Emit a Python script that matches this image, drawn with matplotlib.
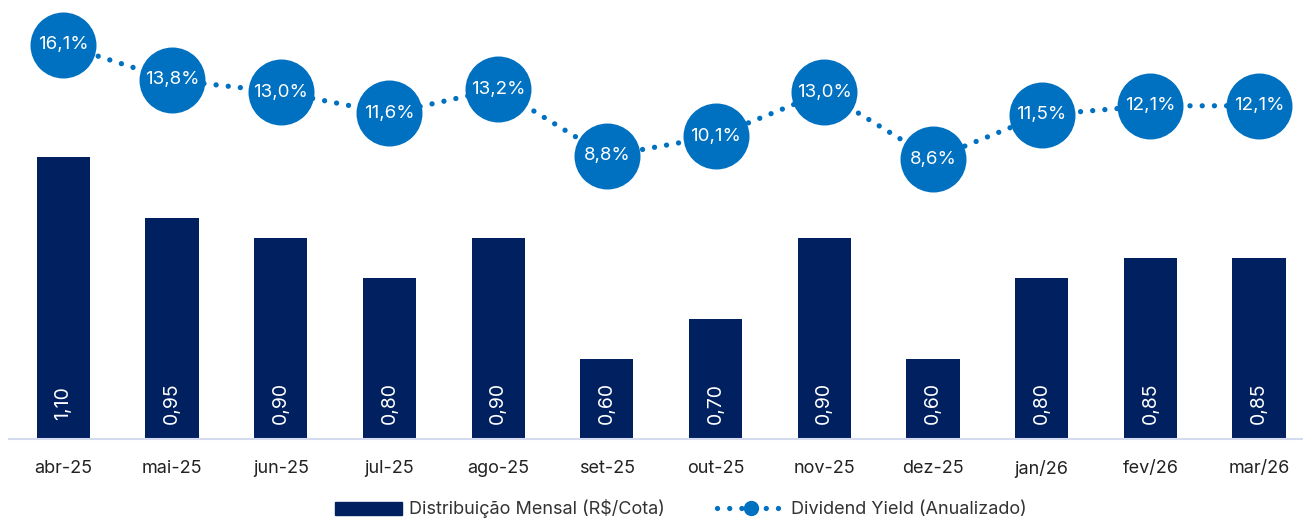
import matplotlib.pyplot as plt
from matplotlib.lines import Line2D
from matplotlib.patches import Patch

meses = ['abr-25', 'mai-25', 'jun-25', 'jul-25', 'ago-25', 'set-25',
         'out-25', 'nov-25', 'dez-25', 'jan/26', 'fev/26', 'mar/26']
distribuicao = [1.10, 0.95, 0.90, 0.80, 0.90, 0.60, 0.70, 0.90, 0.60, 0.80, 0.85, 0.85]
dy = [16.1, 13.8, 13.0, 11.6, 13.2, 8.8, 10.1, 13.0, 8.6, 11.5, 12.1, 12.1]

navy = '#00205f'
azul = '#0070c0'
plt.rcParams['font.family'] = ['Inter', 'DejaVu Sans']

fig = plt.figure(figsize=(13.03, 5.21), dpi=100)
ax = fig.add_axes([9/1303, 1 - 439/521, 1 - 9/1303, 439/521])
x = range(len(meses))

ax.bar(x, distribuicao, width=0.49, color=navy, zorder=2)
for i, v in enumerate(distribuicao):
    ax.text(i, 0.402 + 36/404, f'{v:.2f}'.replace('.', ','), rotation=90,
            ha='center', va='center', color='white', fontsize=14)

ax.set_xlim(-0.5, 11.404)
ax.set_ylim(0.402, 1.489)
ax.set_xticks(list(x))
ax.set_xticklabels(meses, fontsize=13, color='#222222')
ax.tick_params(axis='x', length=0, pad=15)
ax.set_yticks([])
for s in ['top', 'right', 'left']:
    ax.spines[s].set_visible(False)
ax.spines['bottom'].set_color('#d5dbee')
ax.spines['bottom'].set_linewidth(1.5)

ax2 = ax.twinx()
ax2.set_ylim(-9.82, 19.06)
ax2.axis('off')
ax2.plot(x, dy, color=azul, linewidth=3.8, linestyle=(0, (0.01, 2.3)),
         dash_capstyle='round', zorder=2)
ax2.plot(x, dy, 'o', color=azul, markersize=47.5, markeredgewidth=0, zorder=3)
for i, v in enumerate(dy):
    ax2.text(i, v, f'{v:.1f}%'.replace('.', ','), ha='center', va='center',
             color='white', fontsize=13.5, zorder=4)

handles = [Patch(color=navy),
           Line2D([], [], color=azul, linewidth=3.8, linestyle=(0, (0.01, 2.3)),
                  dash_capstyle='round', marker='o', markersize=10)]
fig.legend(handles, ['Distribuição Mensal (R$/Cota)', 'Dividend Yield (Anualizado)'],
           loc='center', bbox_to_anchor=(681/1303, 12/521), ncol=2, frameon=False,
           fontsize=13, handlelength=3.7, handletextpad=0.4, columnspacing=2.9,
           numpoints=1, labelcolor='#333333')

fig.savefig('out.png', dpi=100)
